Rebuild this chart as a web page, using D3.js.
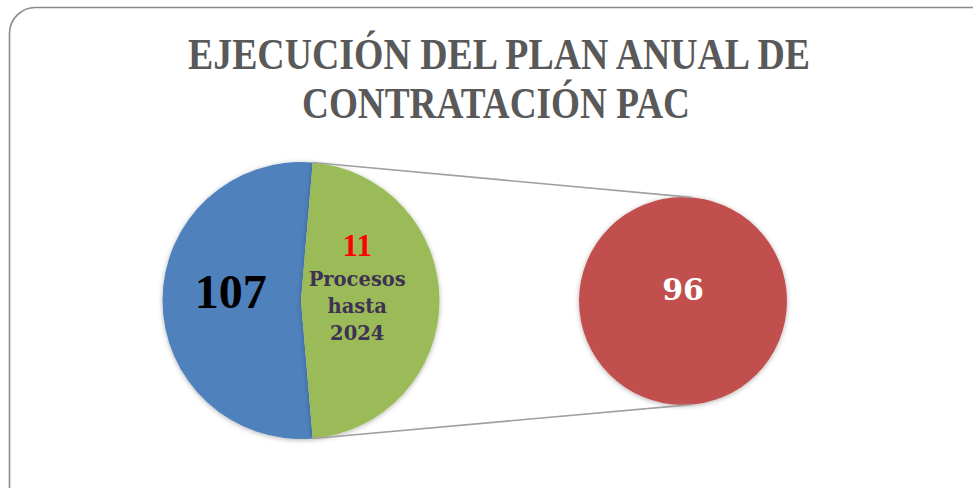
<!DOCTYPE html>
<html><head><meta charset="utf-8">
<script src="https://cdn.jsdelivr.net/npm/d3@7"></script>
<style>html,body{margin:0;padding:0;background:#fff;}svg{display:block;}</style>
</head><body>
<svg id="chart" width="973" height="488"></svg>
<script>
const titleLines = ["EJECUCIÓN DEL PLAN ANUAL DE", "CONTRATACIÓN PAC"];
const mainCategories = ["Ejecutados", "Otros"];
const mainValues = [107, 96];
const secondaryValues = [96];
const mainColors = ["#4F81BD", "#9BBB59"];
const secondaryColors = ["#C0504D"];
const otherLabelLines = ["Procesos", "hasta", "2024"];
const otherLabelNumber = "11";

const svg = d3.select("#chart");
const W = 973, H = 488;

const defs = svg.append("defs");
const f = defs.append("filter").attr("id","sh").attr("x","-20%").attr("y","-20%").attr("width","140%").attr("height","140%");
f.append("feDropShadow").attr("dx",0).attr("dy",1).attr("stdDeviation",2.5).attr("flood-color","#000").attr("flood-opacity",0.3);

// border
svg.append("rect").attr("x",9.5).attr("y",7.5).attr("width",990).attr("height",520)
  .attr("rx",26).attr("ry",26).attr("fill","#fff").attr("stroke","#8a8a8a").attr("stroke-width",1.6);

// title
const tl = [{t:titleLines[0], x:499, y:69, len:622},{t:titleLines[1], x:496, y:118, len:388}];
svg.selectAll("text.title").data(tl).join("text").attr("class","title")
  .attr("x",d=>d.x).attr("y",d=>d.y).attr("text-anchor","middle")
  .attr("textLength",d=>d.len).attr("lengthAdjust","spacingAndGlyphs")
  .attr("font-family","Liberation Serif, serif").attr("font-weight","bold").attr("font-size",44)
  .attr("fill","#595959").text(d=>d.t);

// geometry
const deg = Math.PI/180;
const total = d3.sum(mainValues);
const otherAngle = 2*Math.PI*mainValues[1]/total;
const start = Math.PI/2 + otherAngle/2;   // blue starts here (clockwise from top)
const cx1 = 301, cy1 = 300.5, r1 = 138.5;
const cx2 = 683, cy2 = 301, r2 = 104;

const pie = d3.pie().sort(null).startAngle(start).endAngle(start + 2*Math.PI);
const arcs = pie(mainValues);
const arc1 = d3.arc().innerRadius(0).outerRadius(r1);

const g1 = svg.append("g").attr("transform",`translate(${cx1},${cy1})`);
g1.selectAll("path").data(arcs).join("path")
  .attr("d",arc1).attr("fill",(d,i)=>mainColors[i]).attr("filter","url(#sh)");

// secondary pie
const pie2 = d3.pie().sort(null);
const arc2 = d3.arc().innerRadius(0).outerRadius(r2);
const g2 = svg.append("g").attr("transform",`translate(${cx2},${cy2})`);
g2.selectAll("path").data(pie2(secondaryValues)).join("path")
  .attr("d",arc2).attr("fill",(d,i)=>secondaryColors[i]).attr("filter","url(#sh)");

// connector lines
const o = arcs[1];
const angs = [o.startAngle, o.endAngle];
const pt = (cx,cy,r,a)=>[cx + r*Math.sin(a), cy - r*Math.cos(a)];
svg.selectAll("line.conn").data(angs).join("line").attr("class","conn")
  .attr("x1",a=>pt(cx1,cy1,r1,a)[0]).attr("y1",a=>pt(cx1,cy1,r1,a)[1])
  .attr("x2",a=>pt(cx2,cy2,r2,a)[0]).attr("y2",a=>pt(cx2,cy2,r2,a)[1])
  .attr("stroke","#a0a0a0").attr("stroke-width",1.6);

// labels
const c0 = arc1.centroid(arcs[0]);
g1.append("text").attr("x",c0[0]-1).attr("y",c0[1]+7).attr("text-anchor","middle")
  .attr("font-family","Liberation Serif, serif").attr("font-weight","bold").attr("font-size",48)
  .attr("fill","#000").text(mainValues[0]);

const c1 = arc1.centroid(arcs[1]);
g1.append("text").attr("x",c1[0]-13).attr("y",c1[1]-45).attr("text-anchor","middle")
  .attr("font-family","Liberation Serif, serif").attr("font-weight","bold").attr("font-size",31)
  .attr("fill","#FF0000").text(otherLabelNumber);
g1.selectAll("text.ol").data(otherLabelLines).join("text").attr("class","ol")
  .attr("x",c1[0]-13).attr("y",(d,i)=>c1[1]-15+i*27).attr("text-anchor","middle")
  .attr("font-family","DejaVu Serif, serif").attr("font-weight","bold").attr("font-size",19.5)
  .attr("fill","#3F3151").text(d=>d);

g2.append("text").attr("x",0).attr("y",-1).attr("text-anchor","middle")
  .attr("font-family","DejaVu Serif, serif").attr("font-weight","bold").attr("font-size",30)
  .attr("fill","#fff").text(secondaryValues[0]);
</script>
</body></html>
